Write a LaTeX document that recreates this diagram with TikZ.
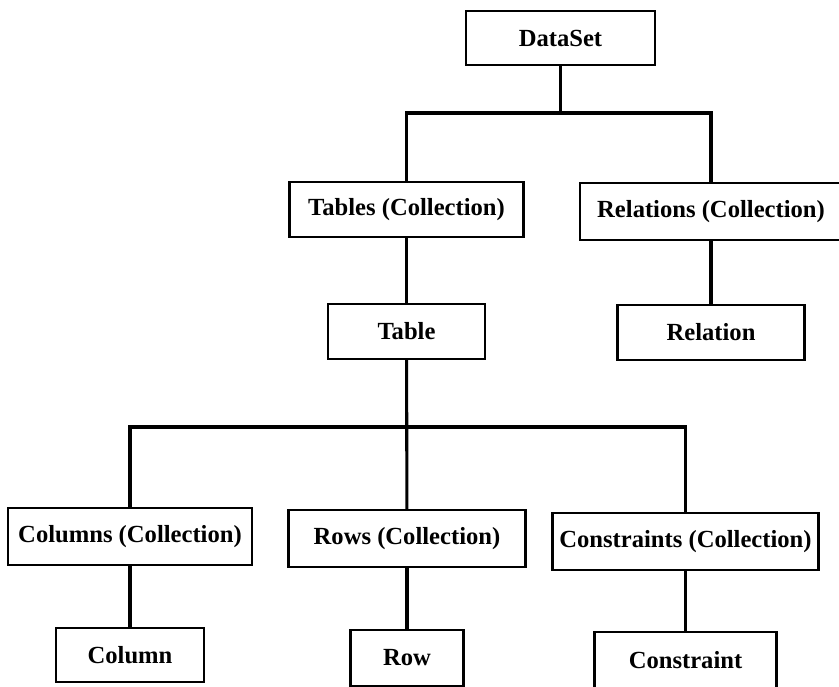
\documentclass[tikz,border=0pt]{standalone}
\usepackage{fontspec}
\setmainfont{Liberation Serif}
\usepackage{tikz}

\begin{document}
\begin{tikzpicture}[x=0.025cm, y=-0.025cm, line width=2pt,
  box/.style={draw, rectangle, line width=2pt, inner sep=0pt, outer sep=0pt, font=\fontsize{17.5}{20}\selectfont\bfseries},
  link/.style={draw, line width=2.2pt, line join=miter}]
\useasboundingbox (0,0) rectangle (839,686);

\node[box, minimum width=189*0.025cm, minimum height=54*0.025cm] (dataset) at (560.5,38) {DataSet};

\node[box, minimum width=234*0.025cm, minimum height=55*0.025cm] (tables) at (406.5,209.5) {Tables (Collection)};
\node[box, minimum width=262*0.025cm, minimum height=57*0.025cm] (relations) at (711,211.5) {Relations (Collection)};

\node[box, minimum width=157*0.025cm, minimum height=55*0.025cm] (table) at (406.5,331.5) {Table};
\node[box, minimum width=187*0.025cm, minimum height=55*0.025cm] (relation) at (711,332.5) {Relation};

\node[box, minimum width=244*0.025cm, minimum height=57*0.025cm] (columns) at (130,536.5) {Columns (Collection)};
\node[box, minimum width=237*0.025cm, minimum height=57*0.025cm] (rows) at (407,538.5) {Rows (Collection)};
\node[box, minimum width=266*0.025cm, minimum height=57*0.025cm] (constraints) at (685.5,541.5) {Constraints (Collection)};

\node[box, minimum width=148*0.025cm, minimum height=54*0.025cm] (column) at (130,655) {Column};
\node[box, minimum width=113*0.025cm, minimum height=56*0.025cm] (row) at (407,658) {Row};
\node[box, minimum width=182*0.025cm, minimum height=56*0.025cm] (constraint) at (685.5,660) {Constraint};

\coordinate (top bus) at (560.5,113);
\coordinate (low bus) at (406.5,427);

\draw[link] (dataset) -- (top bus);
\draw[link] (tables.north) |- (top bus) -| (relations.north);
\draw[link] (tables) -- (table);
\draw[link] (relations) -- (relation);
\draw[link] (table) -- (rows);
\draw[link] (columns.north) |- (low bus) -| (constraints.north);
\draw[link] (columns) -- (column);
\draw[link] (rows) -- (row);
\draw[link] (constraints) -- (constraint);
\end{tikzpicture}
\end{document}
